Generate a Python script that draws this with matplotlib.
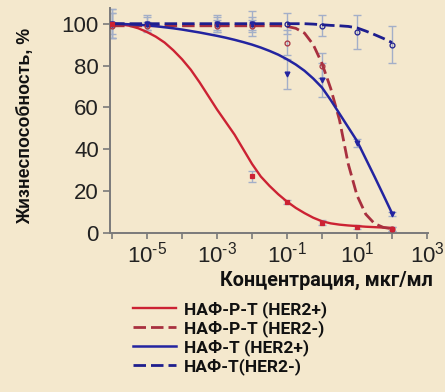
import numpy as np
import matplotlib
matplotlib.use("Agg")
import matplotlib.pyplot as plt
from matplotlib.ticker import FixedLocator, FixedFormatter, NullFormatter

plt.rcParams['font.family'] = ['Liberation Sans', 'DejaVu Sans']
plt.rcParams['mathtext.fontset'] = 'custom'
plt.rcParams['mathtext.rm'] = 'Liberation Sans'
plt.rcParams['mathtext.it'] = 'Liberation Sans'
plt.rcParams['mathtext.bf'] = 'Liberation Sans:bold'

# ---------------- data ----------------
# fitted curves, sampled every quarter decade (log10 of concentration)
curve_exp = [-6, -5.75, -5.5, -5.25, -5, -4.75, -4.5, -4.25, -4, -3.75, -3.5, -3.25,
             -3, -2.75, -2.5, -2.25, -2, -1.75, -1.5, -1.25, -1, -0.75, -0.5, -0.25,
             0, 0.25, 0.5, 0.75, 1, 1.25, 1.5, 1.75, 2]
red_pos_curve = [100, 99.7, 99, 97.8, 96, 93.8, 91, 87.3, 83, 78, 72, 65.5,
                 59, 53, 47, 40, 33, 27, 22.5, 18.5, 15, 12, 9.5, 7.3,
                 5.6, 4.6, 4.0, 3.6, 3.3, 3.0, 2.8, 2.6, 2.4]
red_neg_curve = [99, 99, 99, 99, 99, 99, 99, 99, 99, 99, 99, 99,
                 99, 99, 99, 99, 99, 99, 99, 99, 98.7, 97.8, 95.5, 90,
                 81, 69, 54, 33, 18, 9, 4.5, 2.7, 2]
blue_pos_curve = [100, 99.9, 99.7, 99.5, 99.2, 98.8, 98.3, 97.8, 97.2, 96.5, 95.8, 95.0,
                  94.2, 93.3, 92.3, 91.2, 90, 88.6, 87, 85.2, 83, 80.5, 77.5, 73.8,
                  69.5, 63.5, 57, 50.5, 44, 35.5, 27, 18.3, 9.5]
blue_neg_curve = [100, 100, 100, 100, 100, 100, 100, 100, 100, 100, 100, 100,
                  100, 100, 100, 100, 100, 100, 100, 100, 100, 100, 100, 99.8,
                  99.5, 99.2, 99, 98.7, 98, 96.5, 94.8, 93, 91]

# measured points (concentration, mean, error)
red_pos_x = [1e-6, 1e-2, 1e-1, 1, 10, 100]
red_pos_y = [100, 27, 15, 5, 3, 2]
red_pos_e = [7, 2.5, 1, 1, 1, 1]

red_neg_x = [1e-6, 1e-5, 1e-3, 1e-2, 1e-1, 1, 100]
red_neg_y = [99, 99, 99, 99, 91, 80, 2]
red_neg_e = [6, 2, 3, 3, 6, 6, 1]

blue_pos_x = [1e-6, 1e-5, 1e-3, 1e-2, 1e-1, 1, 10, 100]
blue_pos_y = [100, 100, 100, 100, 76, 73, 43, 9]
blue_pos_e = [5, 3, 3, 3, 7, 8, 2, 1]

blue_neg_x = [1e-6, 1e-5, 1e-3, 1e-2, 1e-1, 1, 10, 100]
blue_neg_y = [100, 100, 100, 100, 100, 99, 96, 90]
blue_neg_e = [7, 4, 4, 6, 5, 5, 8, 9]

labels = ["НАФ-Р-Т (HER2+)", "НАФ-Р-Т (HER2-)", "НАФ-Т (HER2+)", "НАФ-Т(HER2-)"]
xtick_exp = [-5, -3, -1, 1, 3]
xminor_exp = [-6, -4, -2, 0, 2]
yticks = [0, 20, 40, 60, 80, 100]

# ---------------- style ----------------
bg = '#F4E8CD'
c_red = '#CC2233'
c_red_d = '#A8303F'
c_blue = '#2324A0'
c_blue_d = '#1E1E8E'
c_err = '#A3AFC8'
c_axis = '#7A7A7A'

fig = plt.figure(figsize=(4.45, 3.92), dpi=100, facecolor=bg)
ax = fig.add_axes([110/445, 1-233/392, 318/445, 225/392])
ax.set_facecolor(bg)

cx = 10.0 ** np.array(curve_exp)

def pts(x, y, e, color, marker, mfc):
    ax.errorbar(x, y, yerr=e, fmt='none', ecolor=c_err, elinewidth=1.0,
                capsize=3, capthick=1.0, zorder=2)
    ax.plot(x, y, linestyle='none', marker=marker, ms=3.5, color=color,
            mfc=mfc, mew=0.9, zorder=4)

pts(blue_neg_x, blue_neg_y, blue_neg_e, c_blue_d, 'o', 'none')
pts(red_neg_x, red_neg_y, red_neg_e, c_red_d, 'o', 'none')
pts(blue_pos_x, blue_pos_y, blue_pos_e, c_blue, 'v', c_blue)
pts(red_pos_x, red_pos_y, red_pos_e, c_red, 's', c_red)

dash = (0, (4.5, 1.8))
l1, = ax.plot(cx, red_pos_curve, color=c_red, lw=1.7, zorder=3)
l2, = ax.plot(cx, red_neg_curve, color=c_red_d, lw=2.0, ls=dash, zorder=3)
l3, = ax.plot(cx, blue_pos_curve, color=c_blue, lw=1.8, zorder=3)
l4, = ax.plot(cx, blue_neg_curve, color=c_blue_d, lw=2.0, ls=dash, zorder=3)

ax.set_xscale('log')
ax.set_xlim(10 ** -6.06, 10 ** 3.03)
ax.set_ylim(0, 107.5)

ax.xaxis.set_major_locator(FixedLocator([10.0 ** e for e in xtick_exp]))
ax.xaxis.set_major_formatter(FixedFormatter([r'$10^{\text{-}%d}$' % (-e) if e < 0 else r'$10^{%d}$' % e
                                             for e in xtick_exp]))
ax.xaxis.set_minor_locator(FixedLocator([10.0 ** e for e in xminor_exp]))
ax.xaxis.set_minor_formatter(NullFormatter())
ax.set_yticks(yticks)

for s in ['top', 'right']:
    ax.spines[s].set_visible(False)
for s in ['left', 'bottom']:
    ax.spines[s].set_color(c_axis)
    ax.spines[s].set_linewidth(1.4)

ax.tick_params(axis='both', which='both', color=c_axis, width=1.2, direction='out')
ax.tick_params(axis='x', which='both', length=4, pad=2, labelsize=16, labelcolor='#222222')
ax.tick_params(axis='y', which='major', length=5, pad=3, labelsize=16, labelcolor='#222222')

ax.set_ylabel("Жизнеспособность, %", fontsize=12.8, fontweight='bold', color='#111111')
ax.yaxis.set_label_coords((26-110)/318, (233-126)/225)
ax.yaxis.label.set_va('center')

ax.set_xlabel("Концентрация, мкг/мл", fontsize=14.2, fontweight='bold', color='#111111',
              family=['Roboto', 'DejaVu Sans'])
ax.xaxis.set_label_coords((326-110)/318, (233-280)/225)
ax.xaxis.label.set_va('center')

leg = fig.legend([l1, l2, l3, l4], labels, loc='upper left',
                 bbox_to_anchor=(133/445, 1-301/392), frameon=False,
                 borderpad=0, borderaxespad=0, handlelength=2.5, handletextpad=0.45,
                 labelspacing=0.12,
                 prop={'family': ['Roboto', 'DejaVu Sans'], 'weight': 'bold', 'size': 12.5})
for t in leg.get_texts():
    t.set_color('#111111')

fig.savefig('out.png', dpi=100, facecolor=bg)
